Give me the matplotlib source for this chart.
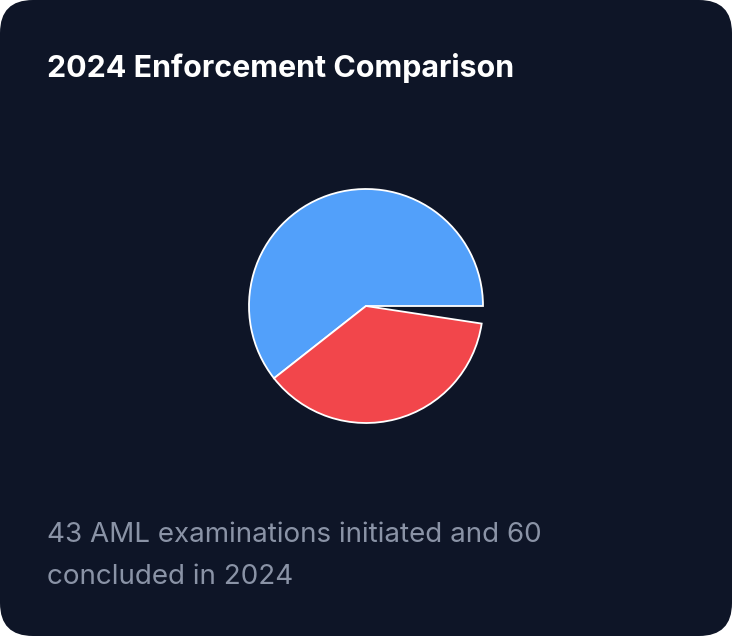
import matplotlib
matplotlib.use('Agg')
import matplotlib.pyplot as plt
from matplotlib.patches import FancyBboxPatch

# slice shares (fractions of the full circle)
labels = ['Concluded', 'Initiated']
shares = [0.606, 0.370]
colors = ['#52a0fa', '#f2464b']

title = '2024 Enforcement Comparison'
caption = ['43 AML examinations initiated and 60', 'concluded in 2024']

W, H = 732, 636
fig = plt.figure(figsize=(W / 100, H / 100), dpi=100)
fig.patch.set_facecolor('white')

card = FancyBboxPatch((0, 0), 1, 1, boxstyle='round,pad=0,rounding_size=0.045',
                      transform=fig.transFigure, facecolor='#0e1527',
                      edgecolor='none', mutation_aspect=W / H, zorder=-5)
fig.patches.append(card)

cx, cy, r = 366, 306, 117
ax = fig.add_axes([(cx - r) / W, (H - cy - r) / H, 2 * r / W, 2 * r / H])
ax.set_facecolor('none')
ax.set_zorder(2)
wedges, _ = ax.pie(shares, colors=colors, startangle=0, counterclock=True,
                   normalize=False, radius=1,
                   wedgeprops=dict(edgecolor='white', linewidth=1.3))
for w in wedges:
    w.set_clip_on(False)
ax.set_xlim(-1, 1)
ax.set_ylim(-1, 1)
ax.set_aspect('equal')
ax.axis('off')

fig.text(47 / W, 1 - 77 / H, title, color='white', fontsize=21.9,
         fontweight='bold', family='Inter', va='baseline', ha='left')
fig.text(47 / W, 1 - 542 / H, caption[0], color='#8a93a6', fontsize=20,
         family='Inter', va='baseline', ha='left')
fig.text(47 / W, 1 - 584 / H, caption[1], color='#8a93a6', fontsize=20,
         family='Inter', va='baseline', ha='left')

fig.savefig('out.png', dpi=100)
